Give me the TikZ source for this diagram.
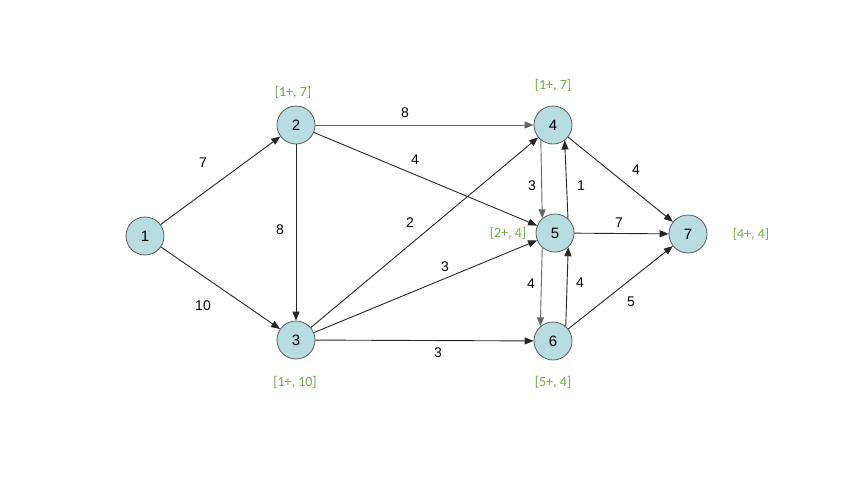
\documentclass[tikz,border=0pt]{standalone}
\usepackage{fontspec}
\setmainfont{Liberation Sans}
\newfontfamily\grfont{Carlito}
\usetikzlibrary{arrows.meta}
\definecolor{nodefill}{RGB}{183,221,224}
\definecolor{nodeedge}{RGB}{90,90,90}
\definecolor{lblgreen}{RGB}{112,173,71}
\tikzset{
  vert/.style={circle, draw=nodeedge, fill=nodefill, line width=0.8pt, minimum size=38pt, inner sep=0pt, font=\fontsize{15}{15}\selectfont},
  arc/.style={draw=black!85, line width=0.9pt, -{Triangle[length=9pt,width=7pt]}},
  wlbl/.style={font=\fontsize{14}{14}\selectfont, inner sep=0pt},
  glbl/.style={font=\grfont\fontsize{14}{14}\selectfont, text=lblgreen, inner sep=0pt}
}
\begin{document}
\begin{tikzpicture}[x=1pt,y=-1pt]
\useasboundingbox (0,0) rectangle (848,477);
\node[vert] (n1) at (145,236) {1};
\node[vert] (n2) at (296,125) {2};
\node[vert] (n3) at (296,340) {3};
\node[vert] (n4) at (553,125) {4};
\node[vert] (n5) at (555,233) {5};
\node[vert] (n6) at (553,341) {6};
\node[vert] (n7) at (688,234) {7};

\draw[arc] (n1) -- (n2);
\draw[arc] (n1) -- (n3);
\draw[arc, draw=black!60] (n2) -- (n4);
\draw[arc] (n2) -- (n5);
\draw[arc] (n2) -- (n3);
\draw[arc] (n3) -- (n4);
\draw[arc] (n3) -- (n5);
\draw[arc] (n3) -- (n6);
\draw[arc, draw=black!60] (n4.231) -- (n5.131);
\draw[arc] (n5.48) -- (n4.307);
\draw[arc, draw=black!60] (n5.229) -- (n6.131);
\draw[arc] (n6.49) -- (n5.313);
\draw[arc] (n4) -- (n7);
\draw[arc] (n5) -- (n7);
\draw[arc] (n6) -- (n7);

\node[wlbl] (w12) at (203,163) {7};
\node[wlbl] (w13) at (203,306) {10};
\node[wlbl] (w24) at (405,113) {8};
\node[wlbl] (w25) at (415,160) {4};
\node[wlbl] (w23) at (280,230) {8};
\node[wlbl] (w34) at (410,223) {2};
\node[wlbl] (w35) at (445,267) {3};
\node[wlbl] (w36) at (438,353) {3};
\node[wlbl] (w45) at (532,186) {3};
\node[wlbl] (w54) at (581,186) {1};
\node[wlbl] (w47) at (636,170) {4};
\node[wlbl] (w57) at (619,223) {7};
\node[wlbl] (w56) at (531,284) {4};
\node[wlbl] (w65) at (580,283) {4};
\node[wlbl] (w67) at (631,302) {5};

\node[glbl] (g2) at (293,92) {[1+, 7]};
\node[glbl] (g3) at (295,382) {[1+, 10]};
\node[glbl] (g4) at (553,85) {[1+, 7]};
\node[glbl] (g5) at (508,233) {[2+, 4]};
\node[glbl] (g6) at (553,382) {[5+, 4]};
\node[glbl] (g7) at (751,234) {[4+, 4]};
\end{tikzpicture}
\end{document}
